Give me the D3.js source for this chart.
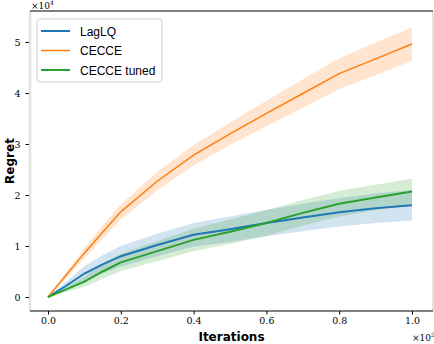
<!DOCTYPE html>
<html><head><meta charset="utf-8">
<script src="https://cdn.jsdelivr.net/npm/d3@7"></script>
<style>body{margin:0;background:#fff}svg{display:block}</style>
</head><body>
<script>
const iterations = [0, 0.05, 0.1, 0.15, 0.2, 0.3, 0.4, 0.5, 0.6, 0.7, 0.8, 0.9, 1.0];
const lagMean   = [0, 0.22, 0.46, 0.64, 0.80, 1.02, 1.22, 1.33, 1.45, 1.56, 1.66, 1.74, 1.80];
const lagSd     = [0, 0.08, 0.15, 0.18, 0.20, 0.22, 0.23, 0.25, 0.26, 0.27, 0.28, 0.29, 0.30];
const ceMean    = [0, 0.43, 0.86, 1.27, 1.67, 2.27, 2.78, 3.20, 3.60, 3.99, 4.38, 4.67, 4.96];
const ceSd      = [0, 0.06, 0.10, 0.13, 0.15, 0.18, 0.20, 0.22, 0.25, 0.28, 0.30, 0.32, 0.33];
const tunedMean = [0, 0.15, 0.30, 0.50, 0.68, 0.90, 1.12, 1.28, 1.45, 1.65, 1.83, 1.95, 2.07];
const tunedSd   = [0, 0.05, 0.10, 0.14, 0.17, 0.20, 0.22, 0.24, 0.25, 0.25, 0.25, 0.25, 0.25];
const xTicks = [0, 0.2, 0.4, 0.6, 0.8, 1.0];
const yTicks = [0, 1, 2, 3, 4, 5];
const seriesNames = ["LagLQ", "CECCE", "CECCE tuned"];
const colors = ["#1f77b4", "#ff7f0e", "#2ca02c"];

const W = 434, H = 344;
const L = 30, R = 433, T = 11, B = 311;
const svg = d3.select("body").append("svg").attr("width", W).attr("height", H);
const x = d3.scaleLinear().domain([0, 1]).range([48, 412]);
const y = d3.scaleLinear().domain([0, 5]).range([297, 42]);

const series = [
  {name: seriesNames[0], mean: lagMean, sd: lagSd, color: colors[0], w: 2},
  {name: seriesNames[1], mean: ceMean, sd: ceSd, color: colors[1], w: 1.5},
  {name: seriesNames[2], mean: tunedMean, sd: tunedSd, color: colors[2], w: 2}
];

const area = d3.area().x(d => x(d.x)).y0(d => y(d.m - d.s)).y1(d => y(d.m + d.s));
const line = d3.line().x(d => x(d.x)).y(d => y(d.m));
series.forEach(s => {
  s.pts = iterations.map((v, i) => ({x: v, m: s.mean[i], s: s.sd[i]}));
  svg.append("path").datum(s.pts).attr("d", area).attr("fill", s.color).attr("fill-opacity", 0.2);
});
series.forEach(s => {
  svg.append("path").datum(s.pts).attr("d", line).attr("fill", "none")
    .attr("stroke", s.color).attr("stroke-width", s.w);
});

// spines
svg.append("line").attr("x1", L).attr("x2", L).attr("y1", T).attr("y2", B).attr("stroke", "#e2e2e2").attr("stroke-width", 2.5);
svg.append("line").attr("x1", R).attr("x2", R).attr("y1", T).attr("y2", B).attr("stroke", "#e2e2e2").attr("stroke-width", 2);
svg.append("line").attr("x1", L).attr("x2", R).attr("y1", T).attr("y2", T).attr("stroke", "#000").attr("stroke-width", 1);
svg.append("line").attr("x1", L).attr("x2", R).attr("y1", B).attr("y2", B).attr("stroke", "#000").attr("stroke-width", 1);

// axes
const xAxis = svg.append("g").attr("transform", `translate(0,${B})`)
  .call(d3.axisBottom(x).tickValues(xTicks).tickFormat(d3.format(".1f")).tickSize(3.5).tickPadding(3));
xAxis.select(".domain").remove();
const yAxis = svg.append("g").attr("transform", `translate(${L - 1},0)`)
  .call(d3.axisLeft(y).tickValues(yTicks).tickFormat(d3.format("d")).tickSize(3.5).tickPadding(5));
yAxis.select(".domain").remove();
svg.selectAll(".tick text").attr("font-family", "'DejaVu Serif', serif").attr("font-size", 9.5).attr("fill", "#000");
svg.selectAll(".tick line").attr("stroke", "#000");

// labels
svg.append("text").attr("x", (L + R) / 2).attr("y", 341).attr("text-anchor", "middle")
  .attr("font-family", "'DejaVu Sans', sans-serif").attr("font-size", 12).attr("font-weight", "bold").text("Iterations");
svg.append("text").attr("transform", `translate(14,${(T + B) / 2}) rotate(-90)`).attr("text-anchor", "middle")
  .attr("font-family", "'DejaVu Sans', sans-serif").attr("font-size", 12).attr("font-weight", "bold").text("Regret");
const m4 = svg.append("text").attr("x", 31).attr("y", 9).attr("font-family", "'DejaVu Serif', serif").attr("font-size", 9);
m4.append("tspan").text("×10");
m4.append("tspan").attr("dy", -4).attr("font-size", 6).text("4");
const m5 = svg.append("text").attr("x", 412).attr("y", 341).attr("font-family", "'DejaVu Serif', serif").attr("font-size", 9);
m5.append("tspan").text("×10");
m5.append("tspan").attr("dy", -4).attr("font-size", 6).text("5");

// legend
const lg = svg.append("g");
lg.append("rect").attr("x", 37).attr("y", 19).attr("width", 125).attr("height", 63).attr("rx", 3)
  .attr("fill", "#fff").attr("fill-opacity", 0.8).attr("stroke", "#d0d0d0").attr("stroke-width", 1);
series.forEach((s, i) => {
  const yy = 31 + i * 19.5;
  lg.append("line").attr("x1", 41).attr("x2", 70).attr("y1", yy).attr("y2", yy).attr("stroke", s.color).attr("stroke-width", s.w);
  lg.append("text").attr("x", 80).attr("y", yy + 4.5).attr("font-family", "'Liberation Sans', sans-serif")
    .attr("font-size", 12).text(s.name);
});
</script>
</body></html>
